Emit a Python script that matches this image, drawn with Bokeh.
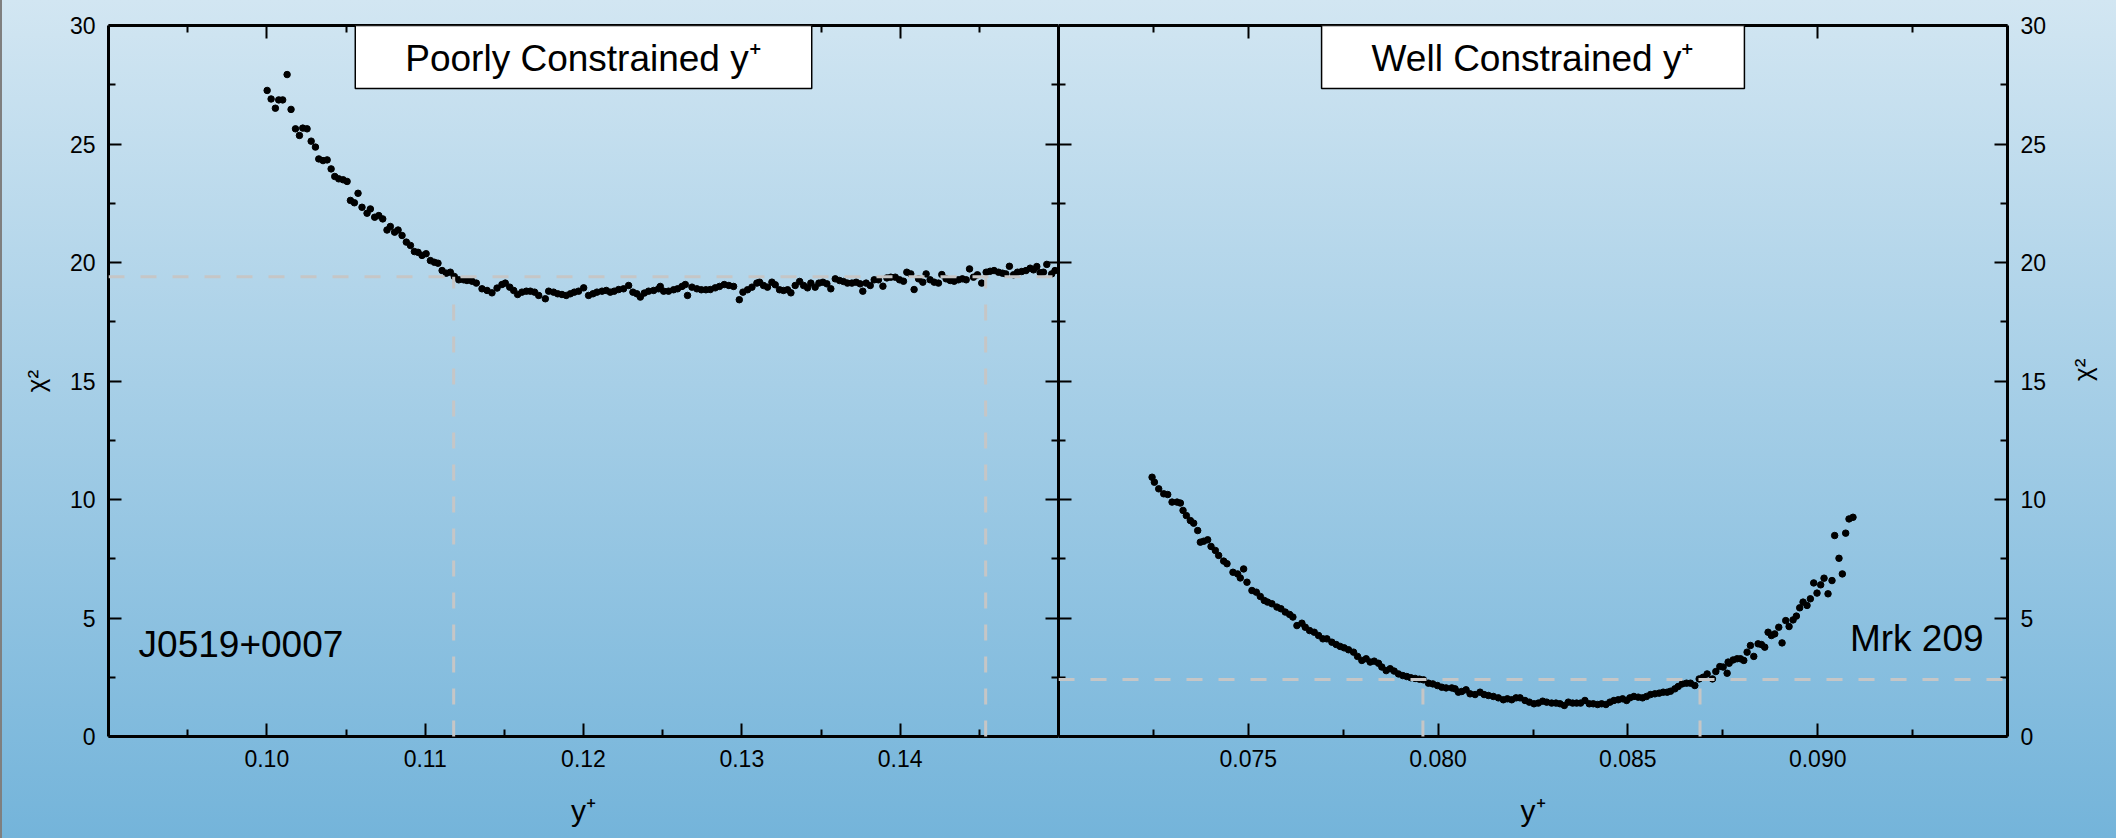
import math
from bokeh.plotting import figure
from bokeh.models import LinearAxis, FixedTicker, PrintfTickFormatter, Range1d, Span, Label
from bokeh.layouts import row
from bokeh.core.properties import value
from bokeh.embed import file_html
from bokeh.resources import INLINE

# ---------------- data ----------------
left_x = [
    0.10002, 0.10027, 0.10054, 0.10075, 0.10100, 0.10128, 0.10153, 0.10181, 0.10206, 0.10227,
    0.10254, 0.10280, 0.10307, 0.10328, 0.10355, 0.10381, 0.10406, 0.10429, 0.10454, 0.10482,
    0.10507, 0.10528, 0.10553, 0.10576, 0.10601, 0.10633, 0.10654, 0.10681, 0.10707, 0.10732,
    0.10759, 0.10780, 0.10807, 0.10829, 0.10854, 0.10881, 0.10907, 0.10932, 0.10955, 0.10980,
    0.11006, 0.11033, 0.11058, 0.11081, 0.11107, 0.11134, 0.11159, 0.11184, 0.11212, 0.11243,
    0.11264, 0.11296, 0.11323,
    0.11359, 0.11391, 0.11422, 0.11454, 0.11485, 0.11506, 0.11534, 0.11559, 0.11584, 0.11611,
    0.11639, 0.11664, 0.11691, 0.11717, 0.11759, 0.11780, 0.11811, 0.11837, 0.11864, 0.11891,
    0.11917, 0.11942, 0.11969, 0.12001, 0.12032, 0.12060, 0.12085, 0.12117, 0.12144, 0.12169,
    0.12194, 0.12222, 0.12253, 0.12285, 0.12312, 0.12337, 0.12359, 0.12384, 0.12411, 0.12443,
    0.12474, 0.12485, 0.12506, 0.12537, 0.12569, 0.12594, 0.12622, 0.12643, 0.12657, 0.12685,
    0.12716, 0.12744, 0.12773, 0.12801, 0.12832, 0.12859, 0.12889, 0.12918, 0.12948, 0.12984,
    0.13007, 0.13036, 0.13064, 0.13095,
    0.13112, 0.13137, 0.13162, 0.13190, 0.13211, 0.13238, 0.13263, 0.13289, 0.13310, 0.13337,
    0.13365, 0.13390, 0.13415, 0.13436, 0.13463, 0.13487, 0.13512, 0.13537, 0.13562, 0.13590,
    0.13617, 0.13642, 0.13667, 0.13695, 0.13722, 0.13747, 0.13764, 0.13785, 0.13811, 0.13836,
    0.13863, 0.13891, 0.13916, 0.13941, 0.13969, 0.13996, 0.14021, 0.14042, 0.14067, 0.14088,
    0.14116, 0.14143, 0.14164, 0.14189, 0.14215, 0.14242, 0.14263, 0.14290, 0.14316, 0.14341,
    0.14368, 0.14393, 0.14417, 0.14438, 0.14463, 0.14488, 0.14515, 0.14543, 0.14568, 0.14593,
    0.14621, 0.14646, 0.14667, 0.14690, 0.14716, 0.14741, 0.14768, 0.14795, 0.14821, 0.14842,
    0.14863, 0.14884, 0.14905, 0.14926, 0.14957, 0.14978,
]
left_chi2 = [
    27.26, 26.90, 26.51, 26.86, 26.86, 27.93, 26.46, 25.64, 25.36, 25.67,
    25.64, 25.12, 24.87, 24.37, 24.30, 24.33, 23.95, 23.63, 23.53, 23.49,
    23.42, 22.62, 22.52, 22.92, 22.33, 22.08, 22.26, 21.91, 21.98, 21.84,
    21.37, 21.52, 21.28, 21.37, 21.14, 20.86, 20.72, 20.46, 20.43, 20.30,
    20.37, 20.08, 20.01, 19.97, 19.66, 19.55, 19.59, 19.41, 19.27, 19.27,
    19.24, 19.21, 19.13,
    18.89, 18.82, 18.72, 18.92, 19.07, 19.13, 18.96, 18.82, 18.65, 18.75,
    18.79, 18.79, 18.75, 18.61, 18.47, 18.79, 18.75, 18.68, 18.65, 18.61,
    18.68, 18.75, 18.79, 18.93, 18.61, 18.68, 18.75, 18.79, 18.82, 18.75,
    18.79, 18.86, 18.89, 19.03, 18.75, 18.68, 18.54, 18.71, 18.79, 18.82,
    18.89, 18.99, 18.79, 18.79, 18.85, 18.89, 18.99, 19.07, 18.61, 18.96,
    18.89, 18.85, 18.85, 18.86, 18.93, 18.99, 19.07, 19.03, 18.99, 18.43,
    18.75, 18.85, 18.96, 19.13,
    19.17, 19.03, 18.96, 19.17, 19.06, 18.85, 18.82, 18.85, 18.72, 19.03,
    19.20, 19.03, 18.93, 19.13, 18.96, 19.13, 19.17, 19.10, 18.89, 19.31,
    19.24, 19.20, 19.13, 19.13, 19.17, 19.10, 18.79, 19.13, 19.03, 19.27,
    19.27, 19.00, 19.35, 19.38, 19.38, 19.27, 19.21, 19.59, 19.52, 18.86,
    19.31, 19.17, 19.52, 19.27, 19.17, 19.13, 19.49, 19.31, 19.24, 19.21,
    19.27, 19.31, 19.27, 19.73, 19.38, 19.48, 19.13, 19.59, 19.63, 19.66,
    19.59, 19.55, 19.52, 19.84, 19.48, 19.59, 19.62, 19.66, 19.76, 19.69,
    19.83, 19.57, 19.59, 19.92, 19.52, 19.66,
]

right_x = [
    0.072465, 0.072526, 0.072640, 0.072772, 0.072877, 0.072991, 0.073123, 0.073211, 0.073281, 0.073368,
    0.073474, 0.073561, 0.073667, 0.073737, 0.073825, 0.073930, 0.074018, 0.074132, 0.074219, 0.074351,
    0.074439, 0.074596, 0.074719, 0.074789, 0.074877, 0.074965, 0.075096, 0.075211, 0.075316, 0.075421,
    0.075509, 0.075623, 0.075754, 0.075860, 0.075974, 0.076088, 0.076175, 0.076281, 0.076412, 0.076500,
    0.076614, 0.076737, 0.076851, 0.076965, 0.077070, 0.077202, 0.077316, 0.077421, 0.077526, 0.077640,
    0.077772, 0.077877, 0.077991, 0.078105, 0.078211, 0.078316, 0.078430, 0.078518, 0.078632, 0.078737,
    0.078842, 0.078956, 0.079070, 0.079175, 0.079281, 0.079395, 0.079509, 0.079614, 0.079746, 0.079860,
    0.079982, 0.080096, 0.080211,
    0.080360, 0.080447, 0.080535, 0.080623, 0.080737, 0.080842, 0.080974, 0.081105, 0.081211, 0.081325,
    0.081456, 0.081588, 0.081719, 0.081825, 0.081939, 0.082053, 0.082158, 0.082289, 0.082404, 0.082526,
    0.082640, 0.082754, 0.082860, 0.082991, 0.083105, 0.083211, 0.083325, 0.083430, 0.083544, 0.083649,
    0.083754, 0.083868, 0.083982, 0.084088, 0.084202, 0.084307, 0.084421, 0.084526, 0.084632, 0.084746,
    0.084860, 0.084965, 0.085053, 0.085158, 0.085272, 0.085386, 0.085491, 0.085596, 0.085711, 0.085825,
    0.085930, 0.086035, 0.086123, 0.086237, 0.086325, 0.086430, 0.086544, 0.086649, 0.086763, 0.086877,
    0.086982, 0.087088, 0.087228, 0.087316, 0.087421, 0.087509, 0.087614, 0.087640,
    0.087667, 0.087772, 0.087877, 0.087965, 0.088053, 0.088140, 0.088228, 0.088316, 0.088430, 0.088518,
    0.088605, 0.088693, 0.088781, 0.088868, 0.088974, 0.089061, 0.089158, 0.089246, 0.089351, 0.089439,
    0.089526, 0.089614, 0.089719, 0.089807, 0.089895, 0.089982, 0.090079, 0.090167, 0.090272, 0.090377,
    0.090447, 0.090561, 0.090649, 0.090737, 0.090825, 0.090930,
]
right_chi2 = [
    10.94, 10.73, 10.45, 10.24, 10.21, 9.89, 9.89, 9.85, 9.54, 9.32,
    9.11, 9.00, 8.69, 8.20, 8.24, 8.30, 8.02, 7.85, 7.64, 7.40,
    7.29, 6.93, 6.86, 6.69, 7.07, 6.51, 6.16, 6.09, 5.91, 5.74,
    5.67, 5.60, 5.46, 5.39, 5.25, 5.15, 5.04, 4.68, 4.78, 4.61,
    4.47, 4.40, 4.26, 4.12, 4.12, 3.98, 3.88, 3.80, 3.74, 3.66,
    3.56, 3.38, 3.21, 3.28, 3.14, 3.18, 3.09, 2.93, 2.78, 2.86,
    2.76, 2.64, 2.57, 2.53, 2.48, 2.45, 2.42, 2.39, 2.25, 2.22,
    2.15, 2.08, 2.05,
    2.05, 2.01, 1.87, 1.90, 1.97, 1.80, 1.77, 1.87, 1.77, 1.73,
    1.69, 1.63, 1.55, 1.59, 1.55, 1.63, 1.63, 1.52, 1.45, 1.38,
    1.41, 1.49, 1.45, 1.41, 1.41, 1.38, 1.31, 1.45, 1.41, 1.41,
    1.41, 1.52, 1.38, 1.38, 1.35, 1.38, 1.35, 1.45, 1.52, 1.55,
    1.59, 1.52, 1.63, 1.69, 1.66, 1.63, 1.69, 1.77, 1.80, 1.83,
    1.87, 1.87, 1.91, 2.01, 2.11, 2.22, 2.25, 2.25, 2.15, 2.43,
    2.50, 2.64, 2.43, 2.74, 2.95, 2.93, 2.67, 3.14,
    3.09, 3.23, 3.28, 3.28, 3.21, 3.56, 3.84, 3.38, 3.91, 3.88,
    3.77, 4.40, 4.26, 4.33, 4.61, 3.95, 4.89, 4.64, 4.92, 5.08,
    5.43, 5.67, 5.53, 5.81, 6.48, 6.05, 6.40, 6.68, 6.02, 6.58,
    8.48, 7.52, 6.86, 8.58, 9.18, 9.25,
]

# confidence levels (dashed guides)
left_level = 19.4
left_bounds = [0.1118, 0.1454]
right_level = 2.4
right_bounds = [0.0796, 0.0869]

# axes
left_xlim = (0.09, 0.15)
right_xlim = (0.07, 0.095)
y_lim = (0, 30)
left_major = [0.10, 0.11, 0.12, 0.13, 0.14]
left_minor = [0.095, 0.105, 0.115, 0.125, 0.135, 0.145]
right_major = [0.075, 0.080, 0.085, 0.090]
right_minor = [0.0725, 0.0775, 0.0825, 0.0875, 0.0925]
y_major = [0, 5, 10, 15, 20, 25, 30]
y_minor = [2.5, 7.5, 12.5, 17.5, 22.5, 27.5]

left_title = "Poorly Constrained y\u207a"
right_title = "Well Constrained y\u207a"
left_source = "J0519+0007"
right_source = "Mrk 209"
x_label = "y\u207a"
y_label = "\u03c7\u00b2"

# ---------------- styling ----------------
FONT = "Liberation Sans"
GRADIENT = "linear-gradient(to bottom, #d2e6f2 0%, #74b4da 100%)"
GUIDE_COLOR = "#c6c6c6"


def style_axis(ax, major, minor, fmt=None, labels=True):
    ax.ticker = FixedTicker(ticks=major, minor_ticks=minor)
    ax.major_tick_in = 13
    ax.major_tick_out = 0
    ax.minor_tick_in = 7
    ax.minor_tick_out = 0
    ax.axis_line_width = 3
    ax.axis_line_color = "black"
    ax.major_tick_line_width = 2
    ax.minor_tick_line_width = 2
    ax.major_tick_line_color = "black"
    ax.minor_tick_line_color = "black"
    if labels:
        if fmt:
            ax.formatter = PrintfTickFormatter(format=fmt)
        ax.major_label_text_font = FONT
        ax.major_label_text_font_size = "23px"
        ax.major_label_text_color = "black"
        ax.major_label_standoff = 13
    else:
        ax.major_label_text_font_size = "0px"
        ax.major_label_standoff = 0
        ax.major_label_text_color = None


def make_panel(xlim, xmajor, xminor, xfmt, ylabel_side):
    p = figure(
        width=1058, height=838,
        x_range=Range1d(*xlim), y_range=Range1d(*y_lim),
        output_backend="svg", toolbar_location=None,
        x_axis_location=None, y_axis_location=None,
        min_border_left=108 if ylabel_side == "left" else 0,
        min_border_right=108 if ylabel_side == "right" else 0,
        min_border_top=25, min_border_bottom=102,
    )
    p.grid.visible = False
    p.outline_line_color = None
    p.background_fill_color = None
    p.border_fill_color = None
    p.styles = {"background": GRADIENT}

    xb = LinearAxis()
    style_axis(xb, xmajor, xminor, xfmt, True)
    xb.axis_label = x_label
    xb.axis_label_text_font = FONT
    xb.axis_label_text_font_style = "normal"
    xb.axis_label_text_font_size = "30px"
    xb.axis_label_text_color = "black"
    xb.axis_label_standoff = 24
    p.add_layout(xb, "below")

    xt = LinearAxis()
    style_axis(xt, xmajor, xminor, labels=False)
    p.add_layout(xt, "above")

    yl = LinearAxis()
    yr = LinearAxis()
    lab_ax, plain_ax = (yl, yr) if ylabel_side == "left" else (yr, yl)
    style_axis(lab_ax, y_major, y_minor, "%d", True)
    lab_ax.axis_label = y_label
    lab_ax.axis_label_text_font = FONT
    lab_ax.axis_label_text_font_style = "normal"
    lab_ax.axis_label_text_font_size = "26px"
    lab_ax.axis_label_text_color = "black"
    if ylabel_side == "right":
        lab_ax.axis_label_orientation = math.pi / 2
        lab_ax.axis_label_standoff = 34
    else:
        lab_ax.axis_label_standoff = 16
    style_axis(plain_ax, y_major, y_minor, labels=False)
    p.add_layout(yl, "left")
    p.add_layout(yr, "right")
    return p


def add_content(p, xs, ys, level, bounds, title, source, source_x, source_y, source_align):
    p.scatter(xs, ys, size=6.5, color="black", line_color="black")
    p.add_layout(Span(location=level, dimension="width", line_color=GUIDE_COLOR,
                      line_width=3, line_dash="16 16", level="overlay"))
    p.segment(x0=bounds, y0=[0, 0], x1=bounds, y1=[level, level],
              line_color=GUIDE_COLOR, line_width=3, line_dash="16 16", level="overlay")
    xr = p.x_range
    p.add_layout(Label(
        x=(xr.start + xr.end) / 2, y=y_lim[1], text=title,
        text_align="center", text_baseline="top",
        text_font=FONT, text_font_size="37px", text_color="black",
        background_fill_color="white", border_line_color="black", border_line_width=1.5,
        padding=dict(left=50, right=50, top=12, bottom=10),
    ))
    p.add_layout(Label(
        x=source_x, y=source_y, text=source, text_align=source_align,
        text_baseline="alphabetic", text_font=FONT, text_font_size="37px",
        text_color="black",
    ))


p1 = make_panel(left_xlim, left_major, left_minor, "%.2f", "left")
add_content(p1, left_x, left_chi2, left_level, left_bounds, left_title, left_source,
            0.0919, 3.9, "left")
p1.styles = {"background": GRADIENT, "box-shadow": "inset 2px 0 0 #7f7f7f"}

p2 = make_panel(right_xlim, right_major, right_minor, "%.3f", "right")
add_content(p2, right_x, right_chi2, right_level, right_bounds, right_title, right_source,
            0.09437, 4.15, "right")

layout = row(p1, p2, spacing=0)
open("out.html", "w").write(file_html(layout, INLINE))
